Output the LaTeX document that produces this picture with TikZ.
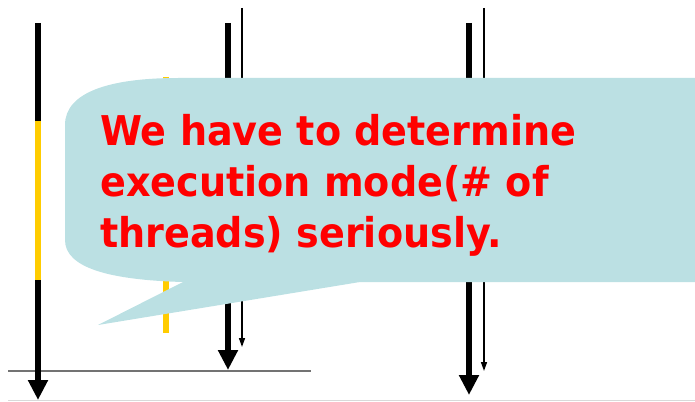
\documentclass[tikz,border=0pt]{standalone}
\usepackage{fontspec}
\usetikzlibrary{arrows.meta}
\newfontfamily\callfont{DejaVu Sans}[FakeStretch=0.93]
\definecolor{callblue}{RGB}{187,224,227}
\definecolor{lanegold}{RGB}{255,204,0}
\definecolor{calltext}{RGB}{255,0,0}
\tikzset{
  thickarrow/.style={line width=6.5pt, -{Triangle[width=19pt,length=20pt]}},
  thinarrow/.style={line width=1.5pt, -{Triangle[width=6pt,length=9pt]}},
  goldbar/.style={line width=6.5pt, draw=lanegold},
  blackbar/.style={line width=6.5pt, draw=black},
  baseline rule/.style={line width=1.3pt, draw=black!55},
  faint rule/.style={line width=1pt, draw=black!15},
  calltxt/.style={anchor=base west, inner sep=0pt, text=calltext,
    font=\callfont\bfseries\fontsize{41}{51}\selectfont},
}
\begin{document}
\begin{tikzpicture}[x=1pt,y=-1pt]
\useasboundingbox (0,0) rectangle (695,401);
% coordinates
\coordinate (L0) at (38,23);
\coordinate (L1) at (38,121);
\coordinate (L2) at (38,280);
\coordinate (L3) at (38,400);
\coordinate (Y0) at (166,77);
\coordinate (Y1) at (166,333);
\coordinate (M0) at (228,23);
\coordinate (M1) at (228,370);
\coordinate (m0) at (242,8);
\coordinate (m1) at (242,347);
\coordinate (R0) at (469,23);
\coordinate (R1) at (469,395);
\coordinate (r0) at (484,8);
\coordinate (r1) at (484,371);
\coordinate (H0) at (8,371);
\coordinate (H1) at (311,371);
\coordinate (F0) at (8,400);
\coordinate (F1) at (695,400);
% rules
\draw[faint rule] (F0) -- (F1);
\draw[baseline rule] (H0) -- (H1);
% left thread
\draw[blackbar] (L0) -- (L1);
\draw[goldbar] (L1) -- (L2);
\draw[thickarrow] (L2) -- (L3);
% middle
\draw[goldbar] (Y0) -- (Y1);
\draw[thickarrow] (M0) -- (M1);
\draw[thinarrow] (m0) -- (m1);
% right
\draw[thickarrow] (R0) -- (R1);
\draw[thinarrow] (r0) -- (r1);
% callout
\fill[callblue] (65,125) .. controls (65,92) and (110,78) .. (178,78)
  -- (700,78) -- (700,282) -- (360,282) -- (98,325) -- (183,282)
  .. controls (110,280) and (65,268) .. (65,240) -- cycle;
\node[calltxt] (t1) at (100,145) {We have to determine};
\node[calltxt] (t2) at (100,196) {execution mode(\# of};
\node[calltxt] (t3) at (100,247) {threads) seriously.};
\end{tikzpicture}
\end{document}
